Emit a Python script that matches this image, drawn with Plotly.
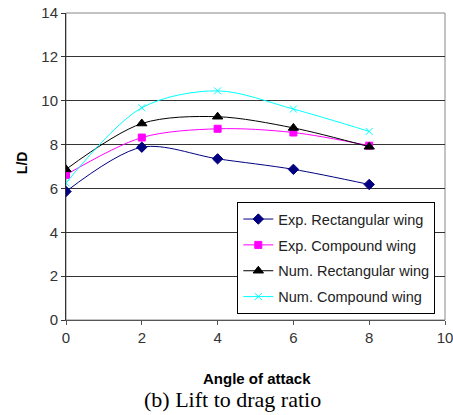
import plotly.graph_objects as go

angles = [0, 2, 4, 6, 8]
exp_rect = [5.86, 7.88, 7.35, 6.87, 6.18]
exp_comp = [6.62, 8.32, 8.72, 8.55, 7.95]
num_rect = [6.87, 8.96, 9.27, 8.76, 7.9]
num_comp = [6.25, 9.68, 10.45, 9.62, 8.6]

x_ticks = [0, 2, 4, 6, 8, 10]
y_ticks = [0, 2, 4, 6, 8, 10, 12, 14]

series = [
    ("Exp. Rectangular wing", exp_rect, "#000080", "diamond", 8, "#000080"),
    ("Exp. Compound wing", exp_comp, "#FF00FF", "square", 7, "#FF00FF"),
    ("Num. Rectangular wing", num_rect, "#000000", "triangle-up", 9, "#000000"),
    ("Num. Compound wing", num_comp, "#00FFFF", "x-thin", 7, "#00FFFF"),
]

fig = go.Figure()
for i, (name, vals, col, sym, sz, mcol) in enumerate(series):
    fig.add_trace(go.Scatter(
        x=angles, y=vals, name=name, mode="lines+markers", legendgroup=f"g{i}",
        line=dict(color=col, width=1, shape="spline", smoothing=0.9),
        marker=dict(symbol=sym, size=sz, color=mcol, line=dict(color=mcol, width=1)),
    ))

fig.update_layout(
    width=453, height=415,
    margin=dict(l=66, r=8, t=13, b=95),
    paper_bgcolor="white", plot_bgcolor="white",
    font=dict(family="Liberation Sans, Arial", size=15, color="#333333"),
    showlegend=True,
    legend=dict(
        x=0.452, y=0.384, xanchor="left", yanchor="top",
        bgcolor="white", bordercolor="black", borderwidth=1,
        font=dict(family="Liberation Sans, Arial", size=14.5, color="#222222"),
        tracegroupgap=4, itemwidth=30,
    ),
    xaxis=dict(
        range=[0, 10], tickvals=x_ticks, ticks="outside", ticklen=4,
        tickcolor="#555555", showgrid=False, zeroline=False, automargin=False,
        showline=True, linecolor="#555555", linewidth=1, mirror=False,
        ticklabeloverflow="allow",
    ),
    yaxis=dict(
        range=[0, 14], tickvals=y_ticks, ticks="outside", ticklen=4,
        tickcolor="#333333", showgrid=True, gridcolor="#333333", gridwidth=1,
        zeroline=False, showline=True, linecolor="#333333", linewidth=1,
        automargin=False, ticklabeloverflow="allow",
    ),
)

# plot area frame (top/right in gray)
fig.add_shape(type="rect", xref="paper", yref="paper", x0=0, y0=0, x1=1, y1=1,
              line=dict(color="#888888", width=1), layer="below")

fig.add_annotation(
    text="<b>Angle of attack</b>", xref="paper", yref="paper",
    x=0.504, y=-0.189, xanchor="center", yanchor="middle", showarrow=False,
    font=dict(family="Liberation Sans, Arial", size=15, color="black"),
)
fig.add_annotation(
    text="<b>L/D</b>", xref="paper", yref="paper", textangle=-90,
    x=-0.116, y=0.511, xanchor="center", yanchor="middle", showarrow=False,
    font=dict(family="Liberation Sans, Arial", size=14, color="black"),
)
fig.add_annotation(
    text="(b) Lift to drag ratio", xref="paper", yref="paper",
    x=0.44, y=-0.26, xanchor="center", yanchor="middle", showarrow=False,
    font=dict(family="Liberation Serif, Times New Roman", size=22, color="black"),
)

fig.write_html(
    "out.html",
    config={"displayModeBar": False},
    post_script="document.body.style.margin='0';document.body.style.overflow='hidden';",
)
